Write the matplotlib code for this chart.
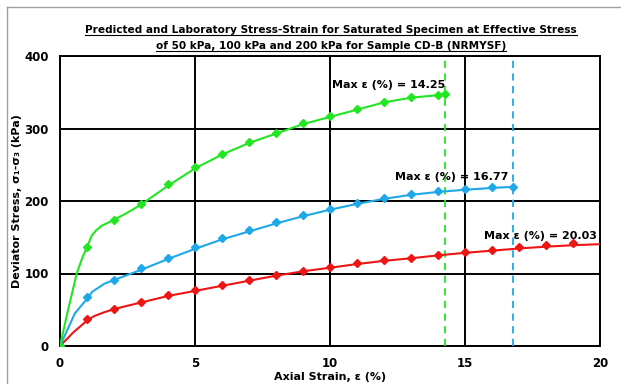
import numpy as np
import matplotlib
matplotlib.use('Agg')
import matplotlib.pyplot as plt
from matplotlib.lines import Line2D

plt.rcParams['font.family'] = ['DejaVu Sans']
plt.rcParams['font.weight'] = 'bold'
plt.rcParams['axes.labelweight'] = 'bold'

# 实验室数据点（轴向应变 %，偏应力 kPa）
lab_strain_50 = [0, 1, 2, 3, 4, 5, 6, 7, 8, 9, 10, 11, 12, 13, 14, 15, 16, 17, 18, 19]
lab_stress_50 = [0, 37, 51, 61, 70, 77.5, 84, 91, 98, 104, 109, 114, 118.5, 122, 126, 129.5, 133, 136, 139.5, 141.5]

lab_strain_100 = [0, 1, 2, 3, 4, 5, 6, 7, 8, 9, 10, 11, 12, 13, 14, 15, 16, 16.77]
lab_stress_100 = [0, 67, 90.5, 107.5, 122, 136, 148.5, 160, 171, 180.5, 188.5, 197, 204, 209.5, 213.5, 216, 219, 220]

lab_strain_200 = [0, 1, 2, 3, 4, 5, 6, 7, 8, 9, 10, 11, 12, 13, 14, 14.25]
lab_stress_200 = [0, 136, 173.5, 196, 223, 247, 265, 281, 294, 307, 317, 327, 337, 343, 346.5, 347]

# 预测曲线
pred_strain_50 = [0, 0.5, 1, 1.25, 1.6, 2, 3, 4, 5, 6, 7, 8, 9, 10, 11, 12, 13, 14, 15, 16, 17, 18, 19, 20.03]
pred_stress_50 = [0, 19, 35, 41, 46, 51, 60, 69, 76, 83, 90, 97, 103, 108, 113, 117.5, 121, 125, 128.5, 131.5, 134.5, 137, 139, 140.5]

pred_strain_100 = [0, 0.55, 1, 1.2, 1.65, 2, 3, 4, 5, 6, 7, 8, 9, 10, 11, 12, 13, 14, 15, 16, 16.77]
pred_stress_100 = [0, 45, 65, 75, 86, 91, 105, 120, 134, 147, 158, 169, 179, 188, 196, 203, 208.5, 212.5, 215.5, 218, 219.5]

pred_strain_200 = [0, 0.3, 0.62, 0.85, 1, 1.17, 1.35, 1.55, 2, 2.5, 3, 4, 5, 6, 7, 8, 9, 10, 11, 12, 13, 14, 14.25]
pred_stress_200 = [0, 50, 100, 124, 136, 152, 160, 166, 174, 184, 195, 221, 245, 264, 280, 293, 306, 316, 326, 336, 342.5, 346, 346.5]

MAX_STRAIN = [20.03, 16.77, 14.25]
COLORS = ['#ee1515', '#1ea8e8', '#22e622']

TITLE_1 = 'Predicted and Laboratory Stress-Strain for Saturated Specimen at Effective Stress'
TITLE_2 = 'of 50 kPa, 100 kPa and 200 kPa for Sample CD-B (NRMYSF)'

fig = plt.figure(figsize=(6.21, 3.84), dpi=100)
ax = fig.add_axes([60 / 621, 1 - 346 / 384, 540 / 621, 290 / 384])

series = [
    (pred_strain_50, pred_stress_50, lab_strain_50, lab_stress_50),
    (pred_strain_100, pred_stress_100, lab_strain_100, lab_stress_100),
    (pred_strain_200, pred_stress_200, lab_strain_200, lab_stress_200),
]
for (px, py, lx, ly), c in zip(series, COLORS):
    ax.plot(px, py, color=c, lw=1.5, zorder=4, clip_on=True)
    ax.plot(lx, ly, ls='none', marker='D', ms=4, color=c, zorder=5, clip_on=True)

# 最大应变竖虚线（50 kPa 的在坐标轴外）
for m, c in zip(MAX_STRAIN[1:], COLORS[1:]):
    ax.axvline(m, color=c, ls=(0, (4, 3)), lw=1.3, zorder=3)

ax.text(14.25, 360, 'Max ε (%) = 14.25', ha='right', va='center', fontsize=8, zorder=6)
ax.text(16.6, 233, 'Max ε (%) = 16.77', ha='right', va='center', fontsize=8, zorder=6)
ax.text(19.9, 152, 'Max ε (%) = 20.03', ha='right', va='center', fontsize=8, zorder=6)

ax.set_xlim(0, 20)
ax.set_ylim(0, 400)
ax.set_xticks([0, 5, 10, 15, 20])
ax.set_yticks([0, 100, 200, 300, 400])
ax.grid(True, color='black', lw=1.4)
ax.set_axisbelow(True)
for s in ax.spines.values():
    s.set_color('black')
    s.set_linewidth(1.4)
ax.tick_params(length=0, labelsize=8.5, pad=8)
ax.set_xlabel('Axial Strain, ε (%)', fontsize=8, labelpad=1)
ax.set_ylabel('Deviator Stress, σ₁-σ₃ (kPa)', fontsize=8, labelpad=2)

t1 = fig.text(331 / 621, 1 - 30 / 384, TITLE_1, ha='center', va='center', fontsize=7.6)
t2 = fig.text(331 / 621, 1 - 46 / 384, TITLE_2, ha='center', va='center', fontsize=7.6)

# 标题下划线
fig.canvas.draw()
r = fig.canvas.get_renderer()
for t in (t1, t2):
    bb = t.get_window_extent(r)
    y = (bb.y0 + 0.5) / fig.bbox.height
    fig.add_artist(Line2D([bb.x0 / fig.bbox.width, bb.x1 / fig.bbox.width], [y, y],
                          color='black', lw=0.8))

# 外框（上边、左边）
fig.add_artist(Line2D([7 / 621, 1], [1 - 7 / 384, 1 - 7 / 384], color='#a0a0a0', lw=1))
fig.add_artist(Line2D([7 / 621, 7 / 621], [0, 1 - 7 / 384], color='#a0a0a0', lw=1))

fig.savefig('out.png', dpi=100)
